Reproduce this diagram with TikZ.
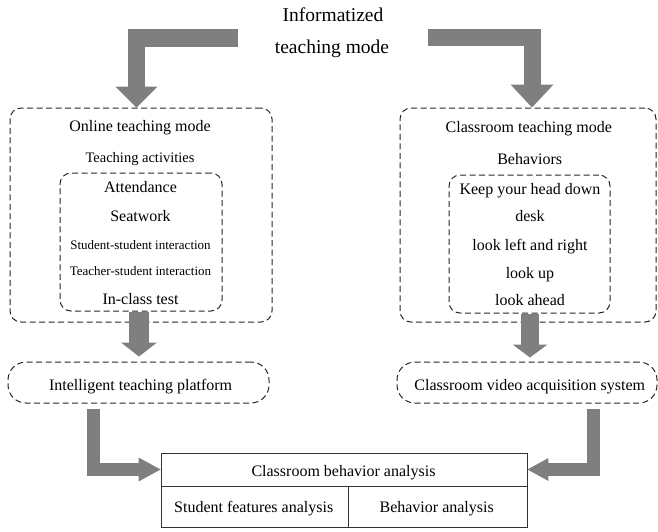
\documentclass[tikz,border=0pt]{standalone}
\usepackage{fontspec}
\setmainfont{Liberation Serif}
\usetikzlibrary{arrows.meta}
\definecolor{arrowgray}{HTML}{7F7F7F}
\definecolor{dashgray}{HTML}{262626}
\definecolor{tablegray}{HTML}{333333}
\begin{document}
\begin{tikzpicture}[x=1pt,y=-1pt,
  dbox/.style={draw=dashgray, line width=1pt, dash pattern=on 6pt off 3.5pt, rounded corners=11pt, inner sep=0pt},
  stadium/.style={draw=dashgray, line width=1pt, dash pattern=on 6pt off 3.5pt, rounded corners=18pt, inner sep=0pt},
  cell/.style={draw=tablegray, line width=0.9pt, inner sep=0pt},
  lbl/.style={anchor=base, inner sep=0pt, font=\fontsize{16}{19}\selectfont},
  small/.style={lbl, font=\fontsize{13}{16}\selectfont},
  title/.style={lbl, font=\fontsize{19.5}{23}\selectfont},
  bigarrow/.style={draw=arrowgray, line join=miter}
]
\useasboundingbox (0,0) rectangle (658,531);

% boxes
\node[dbox, minimum width=262pt, minimum height=214pt] (online) at (141,215) {};
\node[dbox, minimum width=162pt, minimum height=138pt] (onin) at (141,242) {};
\node[dbox, minimum width=256pt, minimum height=214pt] (classroom) at (528,215) {};
\node[dbox, minimum width=161pt, minimum height=138pt] (clin) at (529.5,244) {};
\node[stadium, minimum width=261pt, minimum height=41pt] (intel) at (138.5,382.5) {};
\node[stadium, minimum width=260pt, minimum height=41pt] (video) at (527,382.5) {};
\node[cell, minimum width=366pt, minimum height=33pt] (cba) at (344,469.5) {};
\node[cell, minimum width=187pt, minimum height=41pt] (sfa) at (254.5,506.5) {};
\node[cell, minimum width=179pt, minimum height=41pt] (ba) at (437.5,506.5) {};

% texts
\node[title] (t1) at (333,21) {Informatized};
\node[title] (t2) at (332,53) {teaching mode};

\node[lbl] (otm) at (140,131) {Online teaching mode};
\node[lbl, font=\fontsize{14.5}{17}\selectfont] (ota) at (140,162) {Teaching activities};
\node[lbl] (o1) at (140.5,192.7) {Attendance};
\node[lbl] (o2) at (140.5,221.7) {Seatwork};
\node[small] (o3) at (140.5,249) {Student-student interaction};
\node[small] (o4) at (140.5,275.7) {Teacher-student interaction};
\node[lbl] (o5) at (140.5,304) {In-class test};

\node[lbl] (ctm) at (528.8,132.7) {Classroom teaching mode};
\node[lbl] (cb) at (529.7,164.3) {Behaviors};
\node[lbl] (c1) at (530,194) {Keep your head down};
\node[lbl] (c2) at (530,221.7) {desk};
\node[lbl] (c3) at (530,250.7) {look left and right};
\node[lbl] (c4) at (530,278.3) {look up};
\node[lbl] (c5) at (530,305.7) {look ahead};

\node[lbl] (itp) at (140.6,390) {Intelligent teaching platform};
\node[lbl] (cvas) at (529.7,390) {Classroom video acquisition system};

\node[lbl] (cbat) at (343.5,476.7) {Classroom behavior analysis};
\node[lbl] (sfat) at (253.7,512.7) {Student features analysis};
\node[lbl] (bat) at (436.7,512.7) {Behavior analysis};

% arrows
\coordinate (ltS) at (238,38);
\coordinate (ltX) at (136.5,0);
\draw[bigarrow, line width=17.5pt, -{Triangle[length=21pt,width=42pt,line width=0pt]}]
  (ltS) -| (online.north -| ltX);

\coordinate (rtS) at (428,37.5);
\coordinate (rtX) at (532,0);
\draw[bigarrow, line width=17pt, -{Triangle[length=23pt,width=43pt,line width=0pt]}]
  (rtS) -| (classroom.north -| rtX);

\coordinate (mlX) at (139,0);
\draw[bigarrow, line width=20pt, -{Triangle[length=14pt,width=36pt,line width=0pt]}, shorten >=5pt]
  (onin.south -| mlX) -- (intel.north -| mlX);

\coordinate (mrX) at (530,0);
\draw[bigarrow, line width=18pt, -{Triangle[length=13pt,width=35pt,line width=0pt]}, shorten >=4pt]
  (clin.south -| mrX) -- (video.north -| mrX);

\coordinate (blX) at (93.5,0);
\draw[bigarrow, line width=13pt, -{Triangle[length=22pt,width=24pt,line width=0pt]}, shorten <=5pt]
  (intel.south -| blX) |- (cba.west);

\coordinate (brX) at (593,0);
\draw[bigarrow, line width=13pt, -{Triangle[length=21pt,width=23pt,line width=0pt]}, shorten <=5pt]
  (video.south -| brX) |- (cba.east);
\end{tikzpicture}
\end{document}
